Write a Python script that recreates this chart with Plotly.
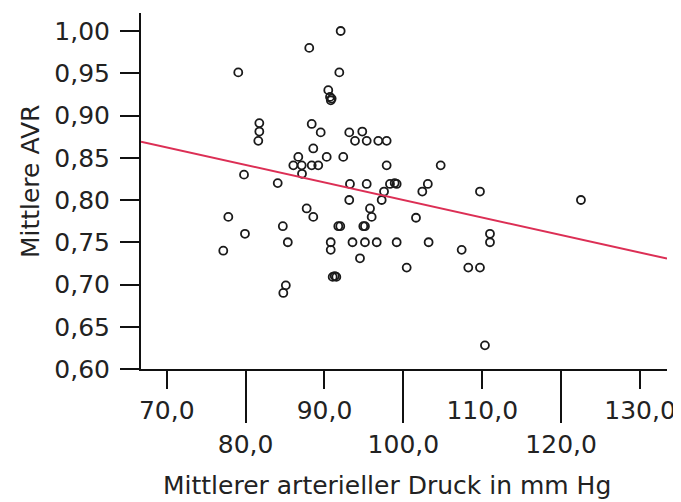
import plotly.graph_objects as go

# Mittlerer arterieller Druck (mm Hg)
map_mmhg = [
    92.05, 88.07, 79.07, 91.88, 90.48, 90.70, 90.91, 90.80,
    81.74, 81.74, 81.61, 88.38, 89.52, 93.14, 94.79,
    93.87, 95.35, 96.82, 97.88,
    88.58, 90.28, 92.38, 86.68,
    86.05, 87.11, 88.38, 89.21, 87.15, 79.80, 84.07, 97.88, 104.73,
    93.23, 95.35, 98.30, 99.15, 98.90, 103.10,
    97.55, 102.40, 109.71, 122.51, 93.14, 97.25,
    87.74, 88.58, 95.77, 95.98,
    91.75, 92.00, 94.92, 95.13, 101.60,
    90.79, 90.79, 93.55, 95.13, 96.62, 99.15, 103.20,
    94.50, 107.39, 110.98, 110.98,
    100.42, 108.23, 109.71, 91.04, 91.30, 91.50,
    110.34, 77.81, 79.92, 77.17, 84.72, 85.35, 85.10, 84.78,
]
# Mittlere AVR
avr = [
    1.000, 0.980, 0.951, 0.951, 0.930, 0.922, 0.920, 0.918,
    0.891, 0.881, 0.870, 0.890, 0.880, 0.880, 0.881,
    0.870, 0.870, 0.870, 0.870,
    0.861, 0.851, 0.851, 0.851,
    0.841, 0.841, 0.841, 0.841, 0.831, 0.830, 0.820, 0.841, 0.841,
    0.819, 0.819, 0.819, 0.819, 0.820, 0.819,
    0.810, 0.810, 0.810, 0.800, 0.800, 0.800,
    0.790, 0.780, 0.790, 0.780,
    0.769, 0.769, 0.769, 0.769, 0.779,
    0.750, 0.741, 0.750, 0.750, 0.750, 0.750, 0.750,
    0.731, 0.741, 0.760, 0.750,
    0.720, 0.720, 0.720, 0.709, 0.710, 0.709,
    0.628, 0.780, 0.760, 0.740, 0.769, 0.750, 0.699, 0.690,
]

# Regression line
fit_intercept = 1.0074
fit_slope = -0.002074

x_range = [66.74, 133.42]
y_range = [0.60, 1.0213]

x_ticks_row1 = [70, 90, 110, 130]
x_ticks_row2 = [80, 100, 120]
y_ticks = [0.60, 0.65, 0.70, 0.75, 0.80, 0.85, 0.90, 0.95, 1.00]

FONT = "DejaVu Sans"
TXT = "#222222"

fit_x = x_range
fit_y = [fit_intercept + fit_slope * v for v in fit_x]

fig = go.Figure()
fig.add_trace(go.Scatter(
    x=map_mmhg, y=avr, mode="markers", xaxis="x", yaxis="y",
    marker=dict(symbol="circle-open", size=8, color="#1a1a1a",
                line=dict(width=1.8, color="#1a1a1a")),
    showlegend=False, hoverinfo="skip",
))
fig.add_trace(go.Scatter(
    x=fit_x, y=fit_y, mode="lines", xaxis="x2", yaxis="y",
    line=dict(color="#dc2f55", width=2),
    showlegend=False, hoverinfo="skip",
))

# page body has an 8px default margin, so the figure is offset by (8, 8)
fig.update_layout(
    width=673, height=494,
    margin=dict(l=133, r=14, t=5, b=133),
    paper_bgcolor="white", plot_bgcolor="white",
    separators=",.",
    font=dict(family=FONT, size=25, color=TXT),
    xaxis=dict(
        range=x_range, tickvals=x_ticks_row1, tickformat=".1f",
        ticks="outside", ticklen=18, tickwidth=2, tickcolor="#111",
        showline=True, linewidth=2, linecolor="#111",
        showgrid=False, zeroline=False, ticklabelstandoff=0,
        tickfont=dict(family=FONT, size=25, color=TXT),
    ),
    xaxis2=dict(
        range=x_range, overlaying="x", anchor="y", side="bottom",
        tickvals=x_ticks_row2, tickformat=".1f",
        ticks="outside", ticklen=53, tickwidth=2, tickcolor="#111",
        showline=False, showgrid=False, zeroline=False, ticklabelstandoff=0,
        tickfont=dict(family=FONT, size=25, color=TXT),
    ),
    yaxis=dict(
        range=y_range, tickvals=y_ticks, tickformat=".2f",
        ticks="outside", ticklen=19, tickwidth=2, tickcolor="#111",
        showline=True, linewidth=2, linecolor="#111",
        showgrid=False, zeroline=False, ticklabelstandoff=5,
        tickfont=dict(family=FONT, size=25, color=TXT),
    ),
    annotations=[
        dict(text="Mittlerer arterieller Druck in mm Hg", xref="paper", yref="paper",
             x=0.468, y=-0.326, xanchor="center", yanchor="middle",
             showarrow=False, font=dict(family=FONT, size=25, color=TXT)),
        dict(text="Mittlere AVR", xref="paper", yref="paper",
             x=-0.211, y=0.525, xanchor="center", yanchor="middle", textangle=-90,
             showarrow=False, font=dict(family=FONT, size=25, color=TXT)),
    ],
)

fig.write_html("out.html")
